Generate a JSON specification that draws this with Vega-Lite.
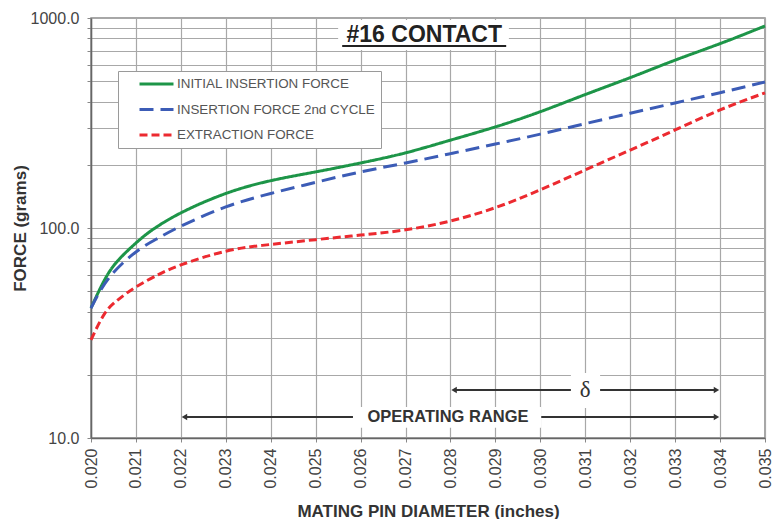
{
  "$schema": "https://vega.github.io/schema/vega-lite/v6.json",
  "width": 674,
  "height": 420,
  "autosize": {"type": "none"},
  "padding": {"left": 91, "top": 18, "right": 13, "bottom": 81},
  "background": "white",
  "config": {
    "font": "Liberation Sans",
    "view": {"stroke": "#8a8a8a", "strokeWidth": 1.5},
    "legend": {
      "orient": "none",
      "legendX": 27,
      "legendY": 53,
      "fillColor": "white",
      "strokeColor": "#9a9a9a",
      "padding": 6,
      "symbolType": "stroke",
      "symbolSize": 1156,
      "symbolStrokeWidth": 3,
      "clipHeight": 14,
      "rowPadding": 11.5,
      "symbolOffset": 14,
      "labelOffset": 2,
      "labelLimit": 400,
      "labelFontSize": 13.4,
      "labelColor": "#555555",
      "labelFont": "Liberation Sans"
    }
  },
  "datasets": {
    "curves": [
      {"d": 0.0200, "f": 41.6, "s": "INITIAL INSERTION FORCE"},
      {"d": 0.0203, "f": 56.5, "s": "INITIAL INSERTION FORCE"},
      {"d": 0.0206, "f": 70.0, "s": "INITIAL INSERTION FORCE"},
      {"d": 0.0210, "f": 84.8, "s": "INITIAL INSERTION FORCE"},
      {"d": 0.02136, "f": 97.8, "s": "INITIAL INSERTION FORCE"},
      {"d": 0.0220, "f": 118, "s": "INITIAL INSERTION FORCE"},
      {"d": 0.0230, "f": 146, "s": "INITIAL INSERTION FORCE"},
      {"d": 0.0240, "f": 168, "s": "INITIAL INSERTION FORCE"},
      {"d": 0.0250, "f": 185, "s": "INITIAL INSERTION FORCE"},
      {"d": 0.0260, "f": 204, "s": "INITIAL INSERTION FORCE"},
      {"d": 0.0270, "f": 228, "s": "INITIAL INSERTION FORCE"},
      {"d": 0.0280, "f": 262, "s": "INITIAL INSERTION FORCE"},
      {"d": 0.0290, "f": 303, "s": "INITIAL INSERTION FORCE"},
      {"d": 0.0300, "f": 358, "s": "INITIAL INSERTION FORCE"},
      {"d": 0.0310, "f": 432, "s": "INITIAL INSERTION FORCE"},
      {"d": 0.0320, "f": 520, "s": "INITIAL INSERTION FORCE"},
      {"d": 0.0330, "f": 630, "s": "INITIAL INSERTION FORCE"},
      {"d": 0.0340, "f": 755, "s": "INITIAL INSERTION FORCE"},
      {"d": 0.0350, "f": 916, "s": "INITIAL INSERTION FORCE"},
      {"d": 0.0200, "f": 41.5, "s": "INSERTION FORCE 2nd CYCLE"},
      {"d": 0.0204, "f": 57.8, "s": "INSERTION FORCE 2nd CYCLE"},
      {"d": 0.0210, "f": 76.9, "s": "INSERTION FORCE 2nd CYCLE"},
      {"d": 0.0215, "f": 89.6, "s": "INSERTION FORCE 2nd CYCLE"},
      {"d": 0.0220, "f": 102, "s": "INSERTION FORCE 2nd CYCLE"},
      {"d": 0.0230, "f": 126, "s": "INSERTION FORCE 2nd CYCLE"},
      {"d": 0.0240, "f": 146, "s": "INSERTION FORCE 2nd CYCLE"},
      {"d": 0.0250, "f": 165, "s": "INSERTION FORCE 2nd CYCLE"},
      {"d": 0.0260, "f": 185, "s": "INSERTION FORCE 2nd CYCLE"},
      {"d": 0.0270, "f": 204, "s": "INSERTION FORCE 2nd CYCLE"},
      {"d": 0.0280, "f": 226, "s": "INSERTION FORCE 2nd CYCLE"},
      {"d": 0.0290, "f": 251, "s": "INSERTION FORCE 2nd CYCLE"},
      {"d": 0.0300, "f": 280, "s": "INSERTION FORCE 2nd CYCLE"},
      {"d": 0.0310, "f": 314, "s": "INSERTION FORCE 2nd CYCLE"},
      {"d": 0.0320, "f": 352, "s": "INSERTION FORCE 2nd CYCLE"},
      {"d": 0.0330, "f": 394, "s": "INSERTION FORCE 2nd CYCLE"},
      {"d": 0.0340, "f": 441, "s": "INSERTION FORCE 2nd CYCLE"},
      {"d": 0.0350, "f": 496, "s": "INSERTION FORCE 2nd CYCLE"},
      {"d": 0.0200, "f": 29.3, "s": "EXTRACTION FORCE"},
      {"d": 0.0203, "f": 39.0, "s": "EXTRACTION FORCE"},
      {"d": 0.0206, "f": 45.5, "s": "EXTRACTION FORCE"},
      {"d": 0.0210, "f": 52.4, "s": "EXTRACTION FORCE"},
      {"d": 0.0215, "f": 60, "s": "EXTRACTION FORCE"},
      {"d": 0.0220, "f": 66.7, "s": "EXTRACTION FORCE"},
      {"d": 0.0230, "f": 77.5, "s": "EXTRACTION FORCE"},
      {"d": 0.0240, "f": 83.5, "s": "EXTRACTION FORCE"},
      {"d": 0.0250, "f": 88, "s": "EXTRACTION FORCE"},
      {"d": 0.0260, "f": 92.5, "s": "EXTRACTION FORCE"},
      {"d": 0.0270, "f": 98, "s": "EXTRACTION FORCE"},
      {"d": 0.0280, "f": 108, "s": "EXTRACTION FORCE"},
      {"d": 0.0290, "f": 125, "s": "EXTRACTION FORCE"},
      {"d": 0.0300, "f": 152, "s": "EXTRACTION FORCE"},
      {"d": 0.0310, "f": 189, "s": "EXTRACTION FORCE"},
      {"d": 0.0320, "f": 235, "s": "EXTRACTION FORCE"},
      {"d": 0.0330, "f": 293, "s": "EXTRACTION FORCE"},
      {"d": 0.0340, "f": 365, "s": "EXTRACTION FORCE"},
      {"d": 0.0350, "f": 440, "s": "EXTRACTION FORCE"}
    ],
    "masks": [
      {"d": 0.0255, "d2": 0.0293, "f": 704, "f2": 977},
      {"d": 0.02583, "d2": 0.03002, "f": 11.2, "f2": 14.05},
      {"d": 0.03068, "d2": 0.03133, "f": 13.9, "f2": 20.4}
    ],
    "segments": [
      {"d": 0.0221, "d2": 0.02583, "f": 12.59},
      {"d": 0.03002, "d2": 0.0339, "f": 12.59},
      {"d": 0.0281, "d2": 0.03068, "f": 16.93},
      {"d": 0.03133, "d2": 0.0339, "f": 16.93}
    ],
    "heads": [
      {"d": 0.02208, "f": 12.59, "dir": "L"},
      {"d": 0.03392, "f": 12.59, "dir": "R"},
      {"d": 0.02808, "f": 16.93, "dir": "L"},
      {"d": 0.03392, "f": 16.93, "dir": "R"}
    ],
    "underline": [
      {"d": 0.02559, "d2": 0.02924, "f": 736}
    ]
  },
  "encoding": {
    "x": {
      "field": "d",
      "type": "quantitative",
      "scale": {"domain": [0.02, 0.035], "nice": false, "zero": false},
      "axis": {
        "title": "MATING PIN DIAMETER (inches)",
        "values": [0.020, 0.021, 0.022, 0.023, 0.024, 0.025, 0.026, 0.027, 0.028, 0.029, 0.030, 0.031, 0.032, 0.033, 0.034, 0.035],
        "format": ".3f",
        "labelAngle": -90,
        "labelAlign": "right",
        "labelBaseline": "middle",
        "labelFontSize": 16,
        "labelColor": "#444444",
        "labelPadding": 6,
        "labelFlush": false,
        "labelOverlap": false,
        "tickSize": 4,
        "tickColor": "#888888",
        "domainColor": "#666666",
        "domainWidth": 1.5,
        "grid": true,
        "gridColor": "#a8a8a8",
        "gridWidth": 1.2,
        "titleFontSize": 17,
        "titleFontWeight": "bold",
        "titleColor": "#333333",
        "titleY": 73,
        "titleBaseline": "middle"
      }
    },
    "y": {
      "field": "f",
      "type": "quantitative",
      "scale": {"type": "log", "domain": [10, 1000], "nice": false},
      "axis": {
        "title": "FORCE (grams)",
        "values": [10, 20, 30, 40, 50, 60, 70, 80, 90, 100, 200, 300, 400, 500, 600, 700, 800, 900, 1000],
        "labelExpr": "(datum.value == 10 || datum.value == 100 || datum.value == 1000) ? format(datum.value, '.1f') : ''",
        "labelFontSize": 16,
        "labelColor": "#444444",
        "labelPadding": 8,
        "labelOverlap": false,
        "labelFlush": false,
        "tickSize": 4,
        "tickColor": "#888888",
        "domainColor": "#666666",
        "domainWidth": 1.5,
        "grid": true,
        "gridColor": "#a8a8a8",
        "gridWidth": 1.2,
        "titleFontSize": 17,
        "titleFontWeight": "bold",
        "titleColor": "#333333",
        "titleX": -71,
        "titleY": 210,
        "titleAngle": -90,
        "titleAlign": "center",
        "titleBaseline": "middle"
      }
    }
  },
  "layer": [
    {
      "data": {"name": "masks"},
      "mark": {"type": "rect", "fill": "white", "stroke": null},
      "encoding": {"x2": {"field": "d2"}, "y2": {"field": "f2"}}
    },
    {
      "data": {"name": "curves"},
      "mark": {"type": "line", "strokeWidth": 3, "interpolate": "natural"},
      "encoding": {
        "color": {
          "field": "s",
          "type": "nominal",
          "scale": {"domain": ["INITIAL INSERTION FORCE", "INSERTION FORCE 2nd CYCLE", "EXTRACTION FORCE"], "range": ["#1d9548", "#3c5cb6", "#ec2a30"]},
          "legend": {"title": null}
        },
        "strokeDash": {
          "field": "s",
          "type": "nominal",
          "scale": {"domain": ["INITIAL INSERTION FORCE", "INSERTION FORCE 2nd CYCLE", "EXTRACTION FORCE"], "range": [[1, 0], [14, 7], [8, 4]]},
          "legend": {"title": null}
        }
      }
    },
    {
      "data": {"name": "segments"},
      "mark": {"type": "rule", "stroke": "#333333", "strokeWidth": 2},
      "encoding": {"x2": {"field": "d2"}}
    },
    {
      "data": {"name": "heads"},
      "mark": {"type": "point", "filled": true, "color": "#333333", "size": 40, "opacity": 1},
      "encoding": {
        "shape": {"field": "dir", "type": "nominal", "scale": {"domain": ["L", "R"], "range": ["triangle-left", "triangle-right"]}, "legend": null}
      }
    },
    {
      "data": {"values": [{"d": 0.027417, "f": 830, "t": "#16 CONTACT"}]},
      "mark": {"type": "text", "font": "Liberation Sans", "fontSize": 23, "fontWeight": "bold", "color": "#222222", "baseline": "middle", "align": "center"},
      "encoding": {"text": {"field": "t"}}
    },
    {
      "data": {"name": "underline"},
      "mark": {"type": "rule", "stroke": "#222222", "strokeWidth": 2},
      "encoding": {"x2": {"field": "d2"}}
    },
    {
      "data": {"values": [{"d": 0.027946, "f": 12.59, "t": "OPERATING RANGE"}]},
      "mark": {"type": "text", "font": "Liberation Sans", "fontSize": 16.5, "fontWeight": "bold", "color": "#333333", "baseline": "middle", "align": "center"},
      "encoding": {"text": {"field": "t"}}
    },
    {
      "data": {"values": [{"d": 0.031, "f": 16.93, "t": "δ"}]},
      "mark": {"type": "text", "font": "Liberation Serif", "fontSize": 23, "color": "#333333", "baseline": "middle", "align": "center"},
      "encoding": {"text": {"field": "t"}}
    }
  ]
}
